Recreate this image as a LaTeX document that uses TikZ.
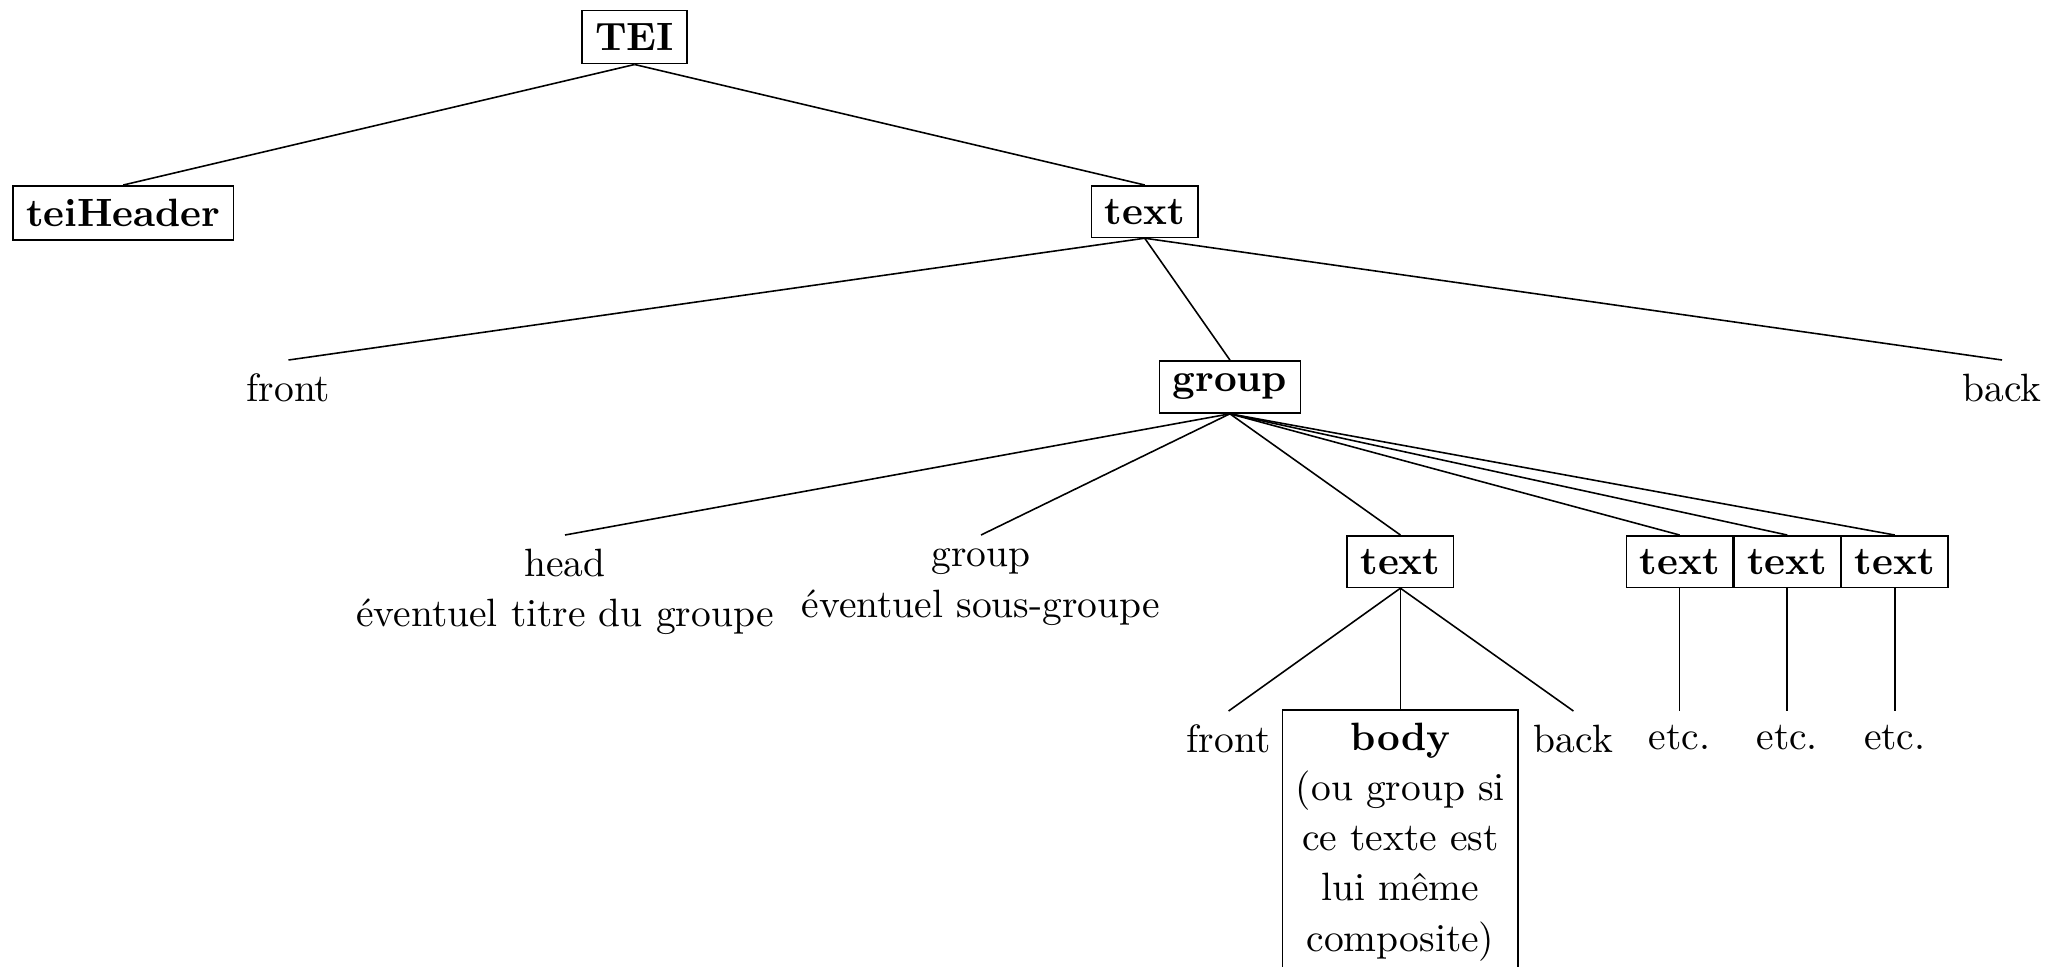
\documentclass[tikz,border=0pt]{standalone}
\begin{document}
\begin{tikzpicture}[x=0.25316pt,y=-0.25316pt,
  elem/.style={draw,font=\bfseries,anchor=north,inner sep=3.33pt},
  leaf/.style={anchor=north,inner sep=3.33pt},
  multi/.style={anchor=north,align=center,inner sep=3.33pt,
    font=\fontsize{10}{12.7}\selectfont},
  branch/.style={line width=0.4pt}]
\useasboundingbox (0,0) rectangle (2056,966);

% level 0
\node[elem] (tei) at (634.6,9.5) {TEI};
% level 1
\node[elem] (hdr) at (123.3,185) {teiHeader};
\node[elem] (txt) at (1144.7,185) {text};
% level 2
\node[leaf] (front) at (288.5,360) {front};
\node[elem] (grp) at (1229.9,360) {group};
\node[leaf] (back) at (2002,360) {back};
% level 3
\node[multi] (head) at (565,535) {head\\éventuel titre du groupe};
\node[multi] (sub) at (981,535) {group\\éventuel sous-groupe};
\node[elem] (t1) at (1400.4,535) {text};
\node[elem] (t2) at (1679.6,535) {text};
\node[elem] (t3) at (1787.2,535) {text};
\node[elem] (t4) at (1894.7,535) {text};
% level 4
\node[leaf] (front2) at (1228.6,711) {front};
\node[draw,anchor=north,inner sep=3.33pt,text width=53pt,align=center,
  font=\fontsize{10}{12.7}\selectfont] (body) at (1400.4,709)
  {\textbf{body}\\(ou group si\\ce texte est\\lui même\\composite)};
\node[leaf] (back2) at (1573.4,711) {back};
\node[leaf] (e2) at (1679.6,711) {etc.};
\node[leaf] (e3) at (1787.2,711) {etc.};
\node[leaf] (e4) at (1894.7,711) {etc.};

% branches
\draw[branch] (tei.south) -- (hdr.north);
\draw[branch] (tei.south) -- (txt.north);
\draw[branch] (txt.south) -- (front.north);
\draw[branch] (txt.south) -- (grp.north);
\draw[branch] (txt.south) -- (back.north);
\draw[branch] (grp.south) -- (head.north);
\draw[branch] (grp.south) -- (sub.north);
\draw[branch] (grp.south) -- (t1.north);
\draw[branch] (grp.south) -- (t2.north);
\draw[branch] (grp.south) -- (t3.north);
\draw[branch] (grp.south) -- (t4.north);
\draw[branch] (t1.south) -- (front2.north);
\draw[branch] (t1.south) -- (body.north);
\draw[branch] (t1.south) -- (back2.north);
\draw[branch] (t2.south) -- (e2.north);
\draw[branch] (t3.south) -- (e3.north);
\draw[branch] (t4.south) -- (e4.north);
\end{tikzpicture}
\end{document}
